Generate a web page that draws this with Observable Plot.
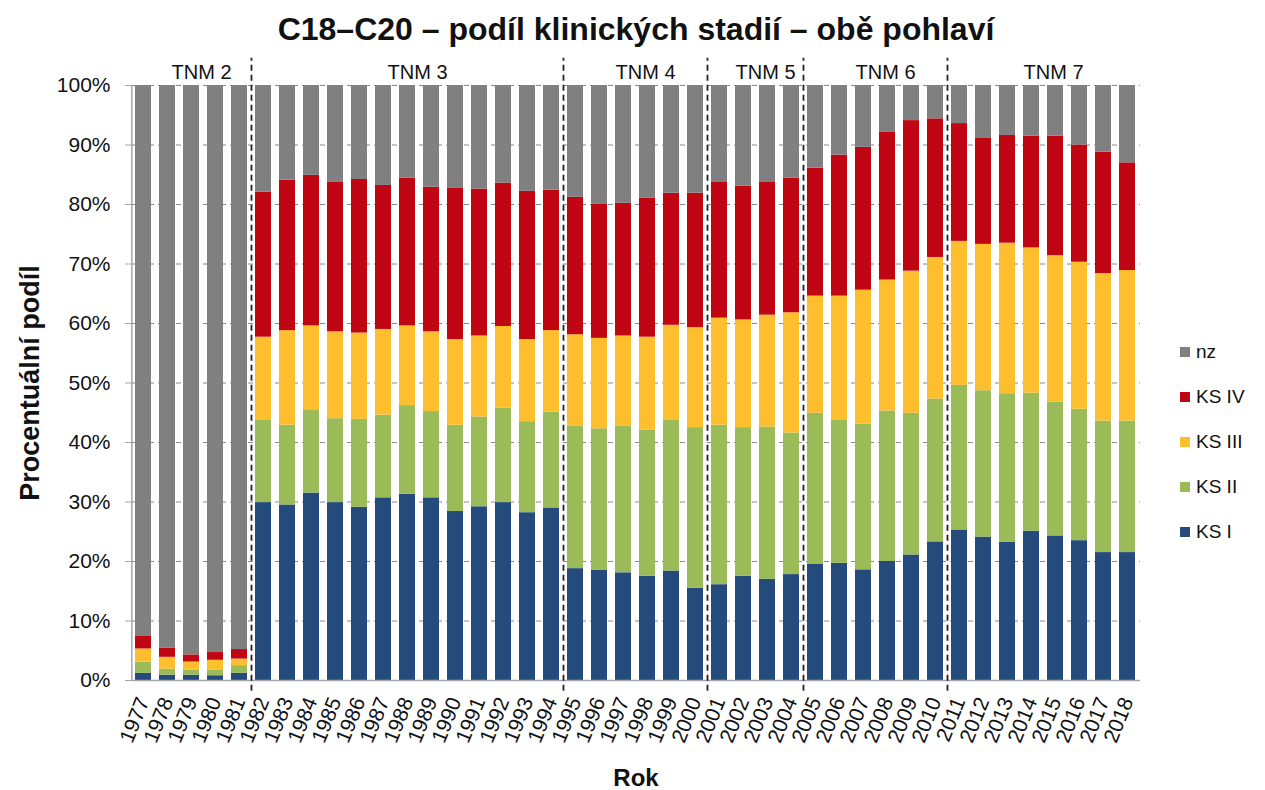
<!DOCTYPE html>
<html><head><meta charset="utf-8">
<script src="https://cdn.jsdelivr.net/npm/d3@7"></script>
<script src="https://cdn.jsdelivr.net/npm/@observablehq/plot@0.6"></script>
<style>
body{margin:0;background:#fff;font-family:"Liberation Sans",Arial,sans-serif}
#wrap{position:relative;width:1265px;height:790px;overflow:hidden}
#legend{position:absolute;left:1180px;top:330px;font-size:19px;color:#111}
.item{display:flex;align-items:center;height:44.8px}
.sw{width:10px;height:10px;margin-right:6px}
</style></head><body><div id="wrap"><div id="chart"></div><div id="legend"></div></div>
<script>
const years = ["1977","1978","1979","1980","1981","1982","1983","1984","1985","1986","1987","1988","1989","1990","1991","1992","1993","1994","1995","1996","1997","1998","1999","2000","2001","2002","2003","2004","2005","2006","2007","2008","2009","2010","2011","2012","2013","2014","2015","2016","2017","2018"];
const series = ["KS I","KS II","KS III","KS IV","nz"];
const colors = ["#244b7c","#9bbb59","#fdbf2d","#c00613","#808080"];
const ksI   = [1.2,0.9,0.9,0.8,1.2,29.9,29.5,31.5,29.9,29.1,30.7,31.3,30.7,28.4,29.2,29.9,28.2,29.0,18.8,18.5,18.1,17.5,18.4,15.5,16.1,17.5,17.0,17.8,19.5,19.7,18.6,20.0,21.1,23.3,25.3,24.1,23.2,25.1,24.3,23.5,21.5,21.5];
const ksII  = [1.9,1.0,0.8,0.9,1.3,13.8,13.4,14.0,14.1,14.8,13.9,14.9,14.5,14.5,15.1,15.9,15.3,16.1,23.9,23.8,24.6,24.6,25.3,27.0,26.8,25.0,25.6,23.8,25.4,24.0,24.5,25.3,23.8,24.0,24.3,24.6,25.0,23.2,22.5,22.1,22.1,22.1];
const ksIII = [2.2,2.0,1.4,1.7,1.1,14.0,15.9,14.1,14.6,14.5,14.4,13.4,13.4,14.4,13.6,13.7,13.8,13.7,15.4,15.2,15.2,15.6,16.0,16.8,18.0,18.1,18.8,20.2,19.7,20.9,22.5,22.0,23.9,23.8,24.2,24.6,25.3,24.4,24.6,24.7,24.8,25.3];
const ksIV  = [2.2,1.5,1.2,1.3,1.6,24.4,25.3,25.3,25.2,25.8,24.2,24.8,24.3,25.4,24.7,24.1,24.9,23.6,23.1,22.6,22.3,23.4,22.2,22.6,22.8,22.5,22.3,22.6,21.5,23.7,24.0,24.9,25.3,23.3,19.8,17.9,18.1,18.8,20.1,19.7,20.4,18.1];
const nz    = [92.5,94.6,95.7,95.3,94.8,17.9,15.9,15.1,16.2,15.8,16.8,15.6,17.1,17.3,17.4,16.4,17.8,17.6,18.8,19.9,19.8,18.9,18.1,18.1,16.3,16.9,16.3,15.6,13.9,11.7,10.4,7.8,5.9,5.6,6.4,8.8,8.4,8.5,8.5,10.0,11.2,13.0];
const yTicks = [0,10,20,30,40,50,60,70,80,90,100];
const tnmLabels = ["TNM 2","TNM 3","TNM 4","TNM 5","TNM 6","TNM 7"];
const tnmStart  = ["1977","1982","1995","2001","2005","2011"];
const tnmEnd    = ["1981","1994","2000","2004","2010","2018"];
const title = "C18–C20 – podíl klinických stadií – obě pohlaví";
const yLabel = "Procentuální podíl";
const xLabel = "Rok";

const seriesValues = [ksI, ksII, ksIII, ksIV, nz];
const rows = [];
years.forEach((yr, i) => series.forEach((s, j) => rows.push({year: yr, stage: s, value: seriesValues[j][i]})));

const W = 1265, H = 790, ML = 131, MR = 125, MT = 85, MB = 110;
const PI = 0.33, PO = 0.15;
const step = (W - ML - MR) / (years.length - PI + 2 * PO);
const bw = step * (1 - PI);

const groups = tnmLabels.map((label, k) => {
  const a = years.indexOf(tnmStart[k]), b = years.indexOf(tnmEnd[k]);
  const cnt = b - a + 1;
  return {label, odd: cnt % 2 === 1, year: years[a + Math.floor((cnt - 1) / 2)]};
});
const dividers = tnmStart.slice(1);

const font = "'Liberation Sans', Arial, sans-serif";
const chart = Plot.plot({
  width: W, height: H,
  marginLeft: ML, marginRight: MR, marginTop: MT, marginBottom: MB,
  style: {fontFamily: font, background: "#fff", overflow: "visible"},
  x: {type: "band", domain: years, paddingInner: PI, paddingOuter: PO, label: null},
  y: {domain: [0, 100], label: null},
  color: {domain: series, range: colors},
  marks: [
    Plot.gridY(yTicks, {stroke: "#8a8a8a", strokeOpacity: 1, strokeDasharray: "5,4", strokeWidth: 1}),
    Plot.barY(rows, {x: "year", y: "value", fill: "stage", order: series}),
    Plot.ruleY([0], {stroke: "#a6a6a6", strokeWidth: 1.5}),
    Plot.ruleX([years[0]], {dx: -(PO * step + bw / 2), y1: 0, y2: 100, stroke: "#a6a6a6", strokeWidth: 1.5}),
    Plot.ruleX(dividers, {x: d => d, dx: -step / 2, y1: -1.8, y2: 104.6, stroke: "#222", strokeWidth: 1.8, strokeDasharray: "6,4"}),
    Plot.axisY({ticks: yTicks, tickFormat: d => d + "%", tickSize: 6, stroke: "#a6a6a6", tickPadding: 15, fontSize: 21, fill: "#111", style: "letter-spacing:1px"}),
    Plot.axisX({tickRotate: -68, tickSize: 0, tickPadding: 18, fontSize: 21, fill: "#111", label: null}),
    Plot.text(groups.filter(g => g.odd), {x: "year", y: () => 102.1, text: "label", fontSize: 20, fill: "#111", dx: 10}),
    Plot.text(groups.filter(g => !g.odd), {x: "year", y: () => 102.1, text: "label", fontSize: 20, fill: "#111", dx: step / 2 + 10}),
    Plot.text([title], {frameAnchor: "top", lineAnchor: "middle", dy: -56, fontSize: 32, fontWeight: "bold", fill: "#111", style: "letter-spacing:1.8px"}),
    Plot.text([yLabel], {frameAnchor: "left", textAnchor: "middle", lineAnchor: "middle", dx: -101, rotate: -90, fontSize: 27, fontWeight: "bold", fill: "#111", style: "letter-spacing:1.8px"}),
    Plot.text([xLabel], {frameAnchor: "bottom", lineAnchor: "middle", dy: 98, fontSize: 24, fontWeight: "bold", fill: "#111"})
  ]
});
document.getElementById("chart").appendChild(chart);

const legend = document.getElementById("legend");
series.slice().reverse().forEach(s => {
  const it = document.createElement("div");
  it.className = "item";
  const sw = document.createElement("span");
  sw.className = "sw";
  sw.style.background = colors[series.indexOf(s)];
  const tx = document.createElement("span");
  tx.textContent = s;
  it.appendChild(sw); it.appendChild(tx);
  legend.appendChild(it);
});
</script></body></html>
